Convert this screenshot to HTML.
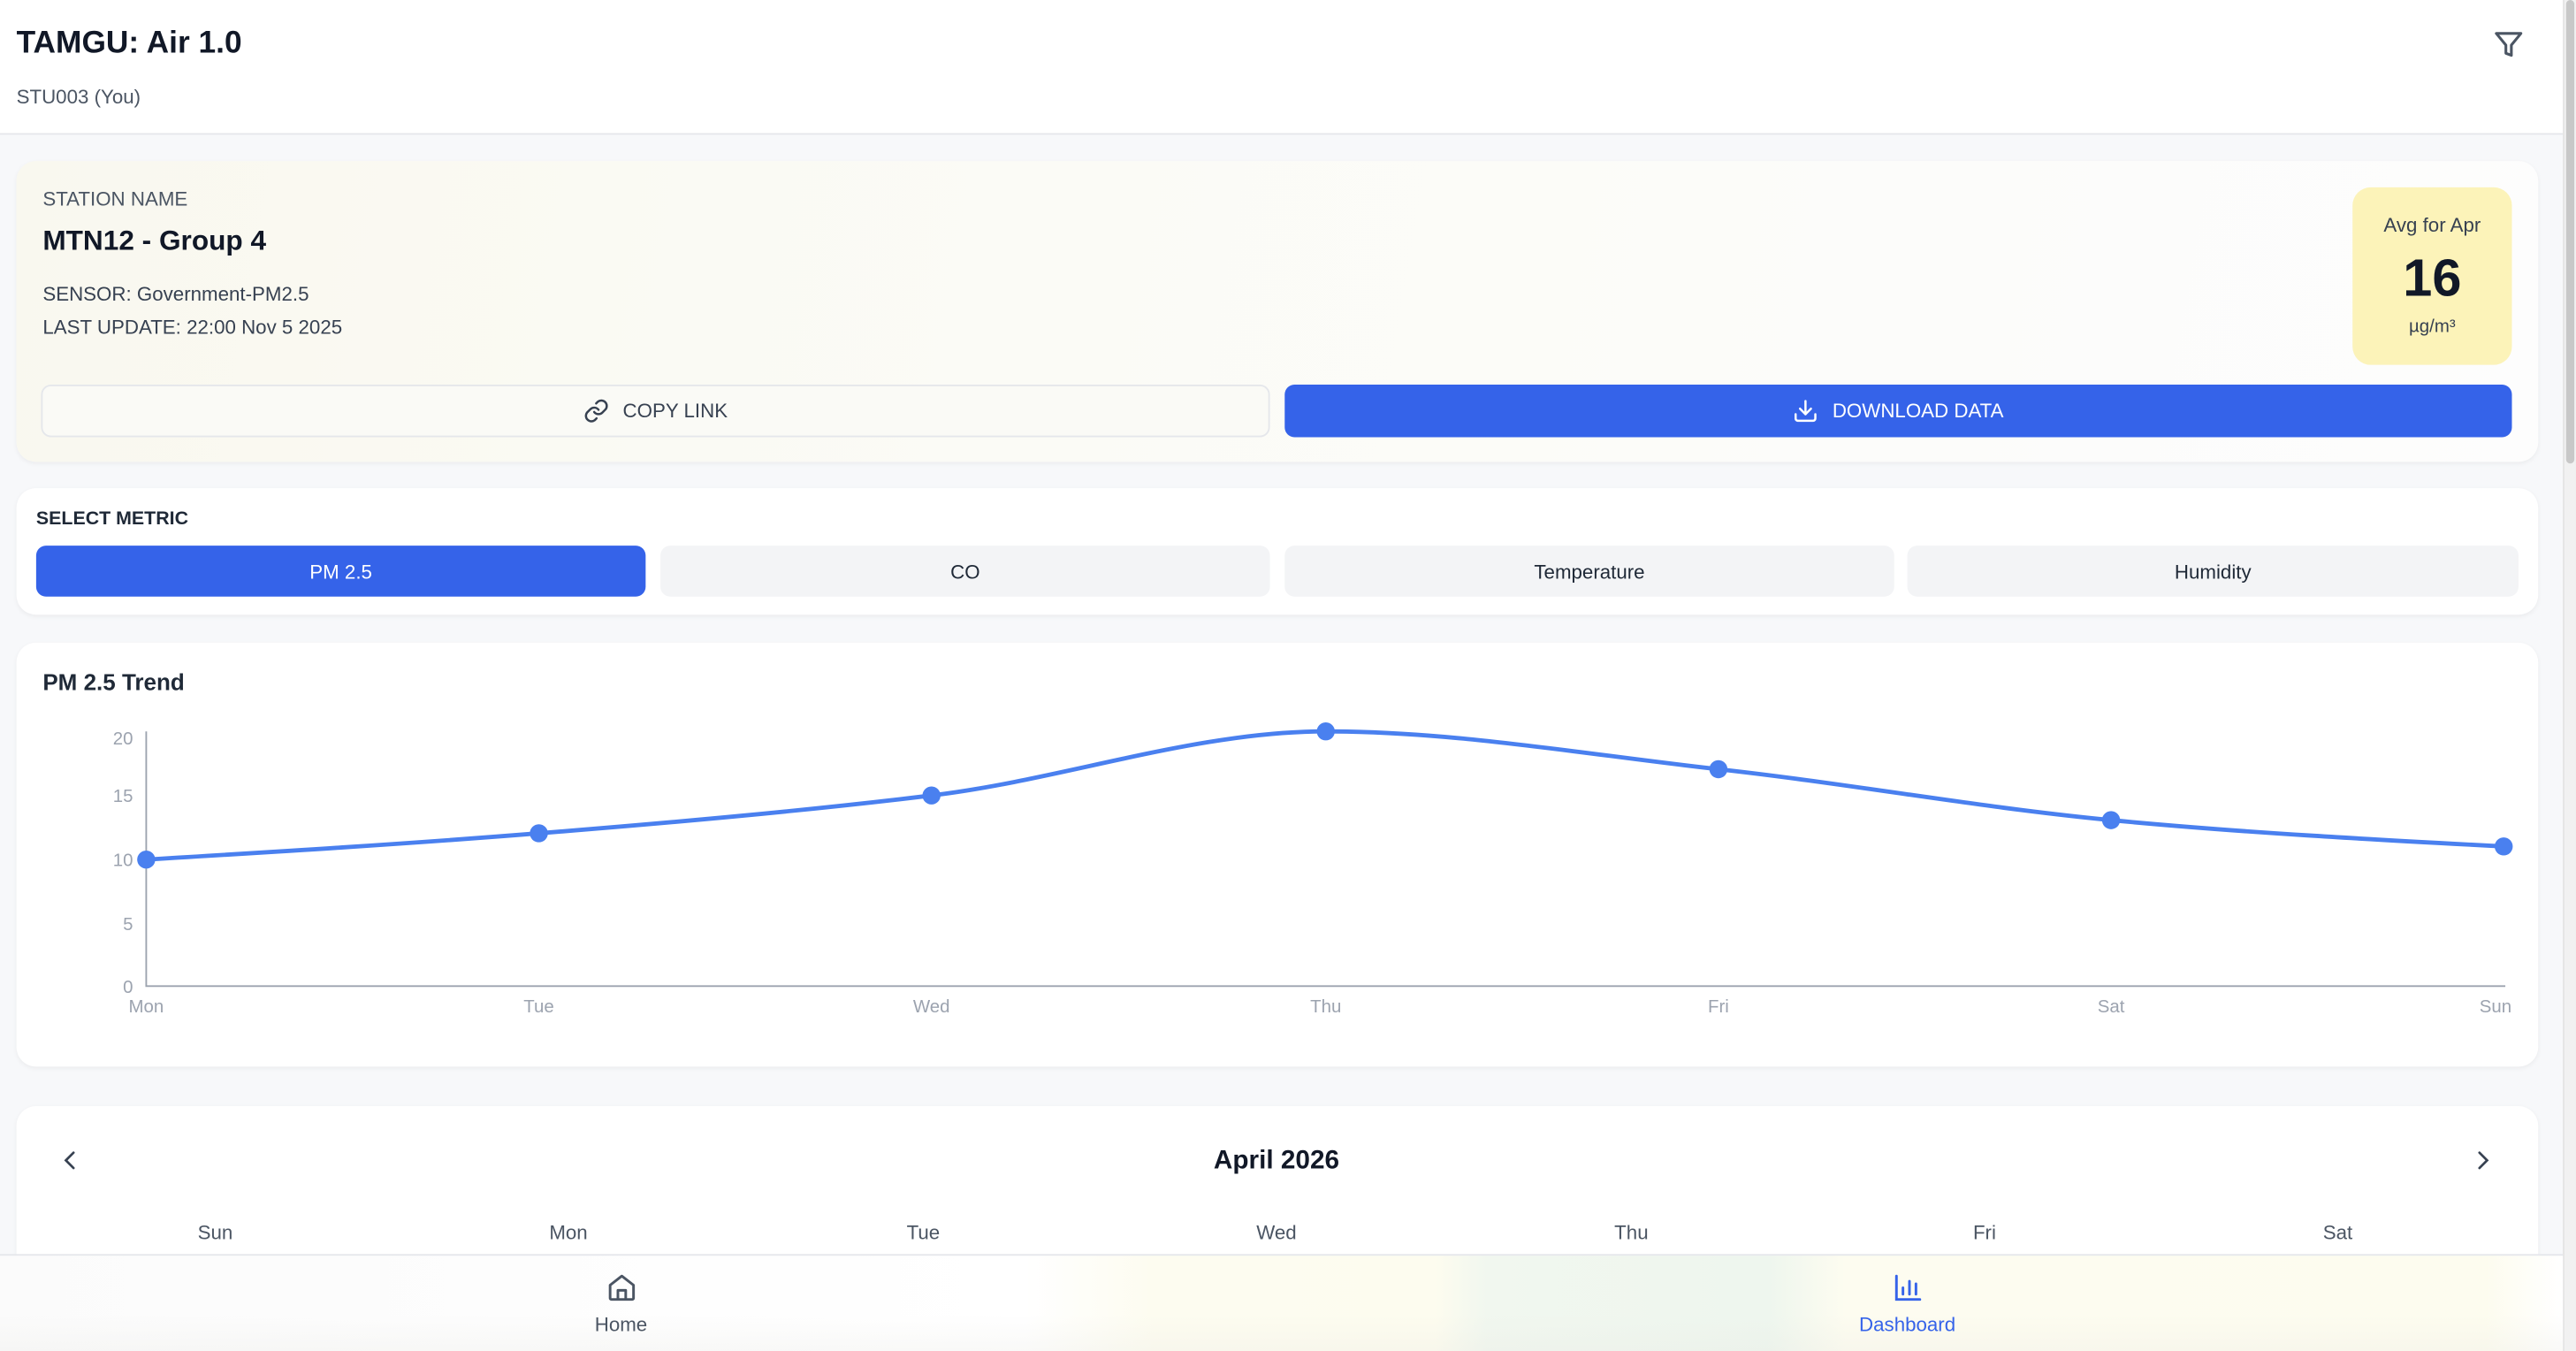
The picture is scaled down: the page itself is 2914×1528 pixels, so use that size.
<!DOCTYPE html>
<html><head><meta charset="utf-8"><style>
*{box-sizing:border-box;margin:0;padding:0}
html,body{width:2914px;height:1528px;overflow:hidden;background:#f7f8fa}
#w{position:absolute;left:0;top:0;width:1568px;height:822px;overflow:hidden;transform:scale(1.8584,1.8589);transform-origin:0 0;font-family:"Liberation Sans",Arial,sans-serif;color:#111827;background:#f7f8fa}
.a{position:absolute}
.card{position:absolute;background:#fff;border-radius:12px;box-shadow:0 1px 3px rgba(0,0,0,.05)}
.t{position:absolute;white-space:nowrap;line-height:1}
.btn{position:absolute;border-radius:6px;display:flex;align-items:center;justify-content:center;font-size:12px}
</style></head><body><div id="w">
<div class="a" style="left:0;top:0;width:1560px;height:82px;background:#fff;border-bottom:1px solid #e5e7eb"></div>
<div class="t" style="left:10px;top:17px;font-size:19px;font-weight:bold">TAMGU: Air 1.0</div>
<div class="t" style="left:10px;top:53px;font-size:12px;color:#4b5563">STU003 (You)</div>
<svg class="a" style="left:1517px;top:17px" width="20" height="20" viewBox="0 0 24 24" fill="none" stroke="#4b5563" stroke-width="2" stroke-linejoin="round"><path d="M3 4h18l-7 8.5V20l-4-1.5v-6z"/></svg>
<div class="a" style="left:1560px;top:0;width:8px;height:822px;background:#f1f1f1;border-left:1px solid #e5e5e5"></div>
<div class="a" style="left:1562px;top:0;width:5px;height:282px;background:#c8c8c8;border-radius:3px"></div>

<div class="card" style="left:10px;top:98px;width:1535px;height:183px;background:linear-gradient(100deg,#f9f8ef 0%,#fbfbf6 40%,#fdfdfd 100%)"></div>
<div class="t" style="left:26px;top:115px;font-size:12px;color:#4b5563">STATION NAME</div>
<div class="t" style="left:26px;top:138px;font-size:17px;font-weight:bold">MTN12 - Group 4</div>
<div class="t" style="left:26px;top:173px;font-size:12px;color:#374151">SENSOR: Government-PM2.5</div>
<div class="t" style="left:26px;top:193px;font-size:12px;color:#374151">LAST UPDATE: 22:00 Nov 5 2025</div>
<div class="a" style="left:1432px;top:114px;width:97px;height:108px;background:#fcf3b9;border-radius:11px"></div>
<div class="t" style="left:1432px;width:97px;text-align:center;top:131px;font-size:12px;color:#374151">Avg for Apr</div>
<div class="t" style="left:1432px;width:97px;text-align:center;top:153px;font-size:32px;font-weight:bold">16</div>
<div class="t" style="left:1432px;width:97px;text-align:center;top:194px;font-size:11px;color:#374151">µg/m³</div>
<div class="btn" style="left:25px;top:234px;width:748px;height:32px;border:1px solid #e5e7eb;background:#fafaf6;color:#374151">
<svg width="16" height="16" viewBox="0 0 24 24" fill="none" stroke="#374151" stroke-width="2" stroke-linecap="round" style="margin-right:8px"><path d="M10 13a5 5 0 0 0 7.5.5l3-3a5 5 0 0 0-7-7l-1.7 1.7"/><path d="M14 11a5 5 0 0 0-7.5-.5l-3 3a5 5 0 0 0 7 7l1.7-1.7"/></svg>COPY LINK</div>
<div class="btn" style="left:782px;top:234px;width:747px;height:32px;background:#3563e9;color:#fff">
<svg width="16" height="16" viewBox="0 0 24 24" fill="none" stroke="#fff" stroke-width="2" stroke-linecap="round" stroke-linejoin="round" style="margin-right:8px"><path d="M21 15v4a2 2 0 0 1-2 2H5a2 2 0 0 1-2-2v-4"/><path d="M7 10l5 5 5-5"/><path d="M12 15V3"/></svg>DOWNLOAD DATA</div>

<div class="card" style="left:10px;top:297px;width:1535px;height:77px"></div>
<div class="t" style="left:22px;top:311px;font-size:11.5px;font-weight:bold;color:#1f2937">SELECT METRIC</div>
<div class="btn" style="left:22px;top:332px;width:371px;height:31px;background:#3563e9;color:#fff">PM 2.5</div>
<div class="btn" style="left:402px;top:332px;width:371px;height:31px;background:#f3f4f6;color:#1f2937">CO</div>
<div class="btn" style="left:782px;top:332px;width:371px;height:31px;background:#f3f4f6;color:#1f2937">Temperature</div>
<div class="btn" style="left:1161px;top:332px;width:372px;height:31px;background:#f3f4f6;color:#1f2937">Humidity</div>

<div class="card" style="left:10px;top:391px;width:1535px;height:258px"></div>
<div class="t" style="left:26px;top:408px;font-size:14px;font-weight:bold;color:#1f2937">PM 2.5 Trend</div>
<svg class="a" style="left:0;top:0" width="1568" height="822" font-family="Liberation Sans, Arial, sans-serif" font-size="11" fill="#9ca3af">
<path d="M89 445V600H1525" fill="none" stroke="#9ca3af" stroke-width="1"/>
<g text-anchor="end"><text x="81" y="453">20</text><text x="81" y="488">15</text><text x="81" y="527">10</text><text x="81" y="566">5</text><text x="81" y="604">0</text></g>
<g text-anchor="middle"><text x="89" y="616">Mon</text><text x="328" y="616">Tue</text><text x="567" y="616">Wed</text><text x="807" y="616">Thu</text><text x="1046" y="616">Fri</text><text x="1285" y="616">Sat</text><text x="1519" y="616">Sun</text></g>
<path d="M89 523C168.7 518.2 248.3 513.4 328 507C407.7 500.6 487.3 493.6 567 484C647 474.4 727 445 807 445C886.7 445 966.3 459.2 1046 468C1125.7 476.8 1205.3 491.4 1285 499C1364.7 506.6 1444.3 510.8 1524 515" fill="none" stroke="#4a80ef" stroke-width="2.6"/>
<g fill="#4a80ef"><circle cx="89" cy="523" r="5.5"/><circle cx="328" cy="507" r="5.5"/><circle cx="567" cy="484" r="5.5"/><circle cx="807" cy="445" r="5.5"/><circle cx="1046" cy="468" r="5.5"/><circle cx="1285" cy="499" r="5.5"/><circle cx="1524" cy="515" r="5.5"/></g>
</svg>

<div class="card" style="left:10px;top:673px;width:1535px;height:140px"></div>
<svg class="a" style="left:36px;top:699px" width="14" height="14" viewBox="0 0 24 24" fill="none" stroke="#374151" stroke-width="2.5" stroke-linecap="round"><path d="M15 4l-8 8 8 8"/></svg>
<svg class="a" style="left:1504px;top:699px" width="14" height="14" viewBox="0 0 24 24" fill="none" stroke="#374151" stroke-width="2.5" stroke-linecap="round"><path d="M9 4l8 8-8 8"/></svg>
<div class="t" style="left:677px;width:200px;text-align:center;top:699px;font-size:16px;font-weight:bold">April 2026</div>
<div class="t" style="left:0;top:744px;font-size:12px;color:#4b5563;width:1568px;height:14px">
<span class="a" style="left:101px;width:60px;text-align:center">Sun</span><span class="a" style="left:316px;width:60px;text-align:center">Mon</span><span class="a" style="left:532px;width:60px;text-align:center">Tue</span><span class="a" style="left:747px;width:60px;text-align:center">Wed</span><span class="a" style="left:963px;width:60px;text-align:center">Thu</span><span class="a" style="left:1178px;width:60px;text-align:center">Fri</span><span class="a" style="left:1393px;width:60px;text-align:center">Sat</span></div>

<div class="a" style="left:0;top:763px;width:1560px;height:70px;border-top:1px solid #e5e7eb;background:linear-gradient(90deg,#fbfbfb 0%,#fff 40%,#fdfcf0 45%,#fdfcef 56%,#f1f7ef 58%,#eef6ee 69%,#fdfcf0 72%,#fdfcef 97%,#fff 100%)"></div>
<div class="a" style="left:0;top:800px;width:1560px;height:33px;background:linear-gradient(180deg,rgba(255,255,255,0),rgba(230,230,225,.35))"></div>
<svg class="a" style="left:369px;top:774px" width="19" height="19" viewBox="0 0 24 24" fill="none" stroke="#4b5563" stroke-width="2" stroke-linejoin="round"><path d="M3 10l9-7 9 7v10a1 1 0 0 1-1 1H4a1 1 0 0 1-1-1z"/><path d="M9 21v-7h6v7"/></svg>
<div class="t" style="left:328px;width:100px;text-align:center;top:800px;font-size:12px;color:#4b5563">Home</div>
<svg class="a" style="left:1152px;top:774px" width="19" height="19" viewBox="0 0 24 24" fill="none" stroke="#3563e9" stroke-width="2" stroke-linecap="round"><path d="M3 3v18h18"/><path d="M8 17v-5M13 17V7M18 17v-8"/></svg>
<div class="t" style="left:1111px;width:100px;text-align:center;top:800px;font-size:12px;color:#3563e9">Dashboard</div>
</div></body></html>
